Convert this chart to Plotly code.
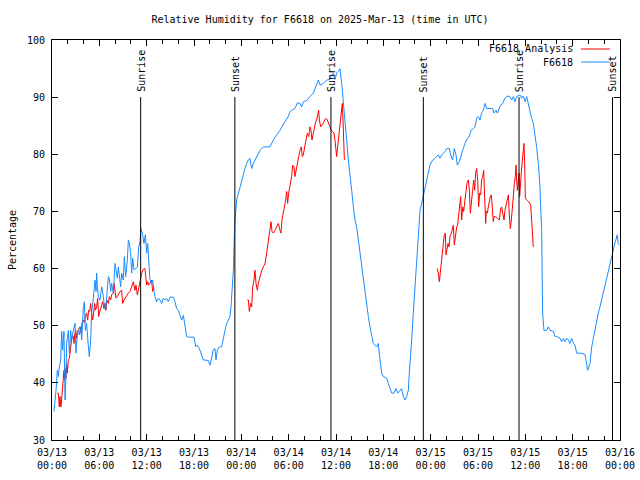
import pandas as pd
import plotly.graph_objects as go

base = pd.Timestamp("2025-03-13 00:00")

# Observed relative humidity (F6618): hours since 03/13 00:00 UTC, values in %
obs_hours = [0.25, 0.38, 0.51, 0.68, 0.80, 0.93, 1.10, 1.23, 1.35, 1.52, 1.65, 1.77, 1.86, 2.07, 2.20, 2.37, 2.49,
             2.70, 2.92, 3.04, 3.21, 3.34, 3.46, 3.63, 3.76, 3.97, 4.10, 4.23, 4.39, 4.61, 4.73, 4.90, 5.03, 5.24,
             5.45, 5.58, 5.66, 5.75, 5.87, 6.08, 6.30, 6.51, 6.63, 6.80, 6.93, 7.14, 7.27, 7.44, 7.56, 7.77, 7.99,
             8.11, 8.28, 8.41, 8.53, 8.70, 8.83, 9.04, 9.17, 9.34, 9.55, 9.68, 9.80, 9.97, 10.10, 10.23, 10.39,
             10.65, 10.82, 10.99, 11.15, 11.28, 11.45, 11.66, 11.83, 12.00, 12.13, 12.25, 12.42, 12.59, 12.76,
             12.93, 13.06, 13.27, 13.48, 13.69, 13.90, 14.11, 14.32, 14.53, 14.75, 14.96, 15.38, 15.59, 15.80,
             16.01, 16.23, 16.44, 16.65, 16.86, 17.07, 17.28, 17.70, 18.00, 18.21, 18.42, 18.68, 18.97, 19.18,
             19.39, 19.82, 20.03, 20.24, 20.45, 20.66, 20.79, 20.96, 21.21, 21.51, 21.72, 21.93, 22.14, 22.35,
             22.56, 22.69, 22.82, 22.99, 23.07, 23.20, 23.41, 23.62, 23.83, 24.04, 24.25, 24.46, 24.68, 24.89,
             25.10, 25.31, 25.52, 25.73, 25.94, 26.15, 26.37, 26.79, 27.63, 28.06, 28.27, 28.48, 28.90, 29.11,
             29.53, 29.96, 30.17, 30.38, 30.80, 31.10, 31.44, 31.65, 31.86, 32.28, 32.49, 32.70, 33.13, 33.46,
             33.76, 33.97, 34.39, 34.82, 35.24, 35.45, 35.66, 35.87, 36.08, 36.29, 36.51, 36.72, 36.93, 37.14,
             37.35, 37.56, 37.77, 37.99, 38.20, 38.41, 38.62, 38.83, 39.04, 39.25, 39.46, 39.68, 39.89, 40.10,
             40.31, 40.52, 40.73, 41.15, 41.36, 41.58, 41.79, 42.00, 42.42, 42.63, 42.85, 43.06, 43.35, 43.60,
             43.82, 44.11, 44.32, 44.54, 44.75, 44.96, 45.17, 45.29, 45.46, 45.59, 45.80, 46.01, 46.22, 46.43,
             46.65, 46.86, 47.07, 47.28, 47.49, 47.70, 47.91, 48.25, 48.55, 48.97, 49.18, 49.39, 49.82, 50.03,
             50.37, 50.53, 50.79, 51.00, 51.21, 51.38, 51.63, 51.80, 52.06, 52.35, 52.65, 52.90, 53.11, 53.41,
             53.62, 53.83, 54.04, 54.25, 54.46, 54.68, 54.89, 55.10, 55.52, 55.86, 56.03, 56.28, 56.45, 56.70,
             56.87, 57.13, 57.42, 57.63, 57.97, 58.27, 58.48, 58.69, 58.90, 59.32, 59.53, 59.74, 59.96, 60.17,
             60.38, 60.59, 60.80, 61.01, 61.22, 61.43, 61.65, 61.86, 61.94, 62.07, 62.19, 62.36, 62.70, 62.91,
             63.13, 63.55, 63.76, 63.97, 64.39, 64.61, 64.82, 65.03, 65.24, 65.45, 65.66, 65.87, 66.08, 66.30,
             66.51, 66.93, 67.56, 67.77, 67.90, 68.20, 68.41, 68.75, 68.96, 69.25, 69.46, 69.67, 69.88, 70.09,
             70.30, 70.51, 70.72, 70.94, 71.06, 71.23, 71.48, 71.65, 71.77, 71.98]
obs_values = [35.0, 36.7, 38.7, 42.2, 41.1, 42.8, 44.0, 49.0, 45.7, 49.0, 37.0, 41.1, 46.9, 49.2, 45.2, 49.2, 47.5,
              49.2, 50.4, 45.2, 48.7, 49.2, 48.4, 49.8, 47.5, 53.0, 54.2, 49.2, 50.4, 46.3, 44.6, 47.5, 52.2, 54.8,
              58.0, 56.0, 59.2, 56.8, 55.1, 54.5, 56.8, 55.1, 53.3, 52.7, 54.5, 58.6, 58.3, 56.0, 57.4, 55.7, 60.9,
              59.8, 58.3, 60.3, 59.2, 56.8, 59.2, 58.0, 62.1, 58.6, 61.5, 65.0, 64.4, 62.7, 59.2, 61.8, 59.8,
              60.0, 60.3, 63.8, 64.7, 67.0, 66.2, 64.4, 65.9, 62.7, 64.4, 60.9, 58.0, 57.4, 58.0,
              56.2, 55.1, 54.2, 54.8, 54.5, 53.9, 54.8, 54.5, 54.8, 54.2, 55.0, 55.0, 54.2, 53.0,
              52.7, 51.6, 51.0, 51.8, 49.8, 48.1, 48.0, 48.0, 48.0, 46.3, 46.6, 46.0, 44.9, 44.0,
              44.0, 43.9, 43.1, 44.6, 45.8, 46.0, 44.0, 45.8, 46.3, 46.3, 48.1, 49.2, 50.4, 51.0,
              51.6, 53.3, 56.2, 59.7, 64.1, 68.5, 72.0, 73.2, 74.3, 75.5, 76.7, 77.5, 78.4, 79.0,
              79.3, 77.5, 78.4, 79.0, 79.6, 80.2, 80.7, 81.3, 81.3, 82.5, 83.1, 83.4, 84.2, 84.8,
              85.7, 86.6, 87.5, 87.7, 88.0, 89.0, 88.9, 88.3, 89.2, 89.4, 89.8, 90.1, 90.7, 91.8,
              93.0, 92.1, 92.4, 93.0, 93.1, 93.9, 94.2, 93.1, 94.2, 94.5, 95.0, 92.4, 89.5, 86.0,
              82.5, 79.0, 76.7, 73.7, 70.8, 68.5, 67.3, 65.0, 62.7, 60.3, 58.0, 55.7, 53.3, 51.6,
              49.8, 48.1, 46.9, 46.3, 46.9, 44.0, 41.7, 41.1, 40.8, 39.9, 39.0, 38.2, 38.2, 39.0,
              38.2, 38.7, 39.0, 37.6, 37.0, 37.6, 38.7, 41.7, 44.6, 47.5, 52.2, 56.8, 62.7, 67.3,
              70.2, 71.4, 72.6, 74.3, 75.5, 76.7, 78.1, 79.0, 79.3, 79.9, 79.3, 79.9, 80.5, 81.0,
              81.0, 79.9, 79.0, 81.0, 79.9, 78.1, 78.7, 79.6, 80.7, 81.9, 82.8, 83.1, 84.2, 84.5,
              84.8, 86.3, 86.6, 86.0, 87.2, 87.7, 88.9, 88.0, 88.0, 88.0, 87.2, 87.7, 87.2, 88.0,
              88.6, 88.9, 89.8, 90.1, 90.2, 89.5, 90.1, 89.2, 90.1, 90.4, 89.8, 90.2, 89.2, 90.1,
              88.6, 87.5, 86.3, 85.4, 83.7, 81.3, 78.4, 74.3, 70.8, 66.7, 52.2, 49.2, 49.2, 49.8,
              49.2, 49.0, 48.1, 48.1, 47.8, 47.2, 47.8, 47.2, 47.8, 47.5, 46.9, 47.8, 46.9, 46.6,
              45.2, 45.2, 45.0, 42.8, 42.2, 43.4, 46.3, 48.7, 50.4, 52.2, 53.3, 54.5, 55.7, 56.8,
              58.0, 59.2, 60.3, 61.5, 62.7, 63.8, 65.0, 65.9, 64.4, 64.1]

# Analysis (F6618 Analysis), three daily segments
ana1_hours = [0.68, 0.80, 0.93, 1.01, 1.14, 1.23, 1.35, 1.52, 1.61, 1.65, 1.77, 1.86, 1.94, 2.07, 2.20, 2.28, 2.41,
              2.53, 2.70, 2.79, 2.87, 3.00, 3.13, 3.25, 3.38, 3.55, 3.68, 3.80, 3.97, 4.10, 4.23, 4.39, 4.52,
              4.65, 4.77, 4.90, 5.03, 5.15, 5.28, 5.41, 5.49, 5.66, 5.79, 5.92, 6.00, 6.17, 6.30, 6.42, 6.59,
              6.72, 6.84, 6.93, 7.14, 7.27, 7.44, 7.56, 7.77, 7.86, 7.99, 8.11, 8.28, 8.41, 8.62, 8.83, 8.96,
              9.13, 9.38, 9.68, 9.89, 10.10, 10.31, 10.52, 10.65, 10.82, 10.99, 11.15, 11.36, 11.57, 11.78,
              11.91, 12.00, 12.13, 12.25, 12.42, 12.63, 12.76, 12.93]
ana1_values = [38.2, 38.2, 35.8, 37.6, 35.8, 37.6, 39.9, 42.2, 40.5, 42.5, 40.8, 43.4, 41.7, 44.0, 44.3, 45.2, 46.3,
               48.1, 48.1, 46.9, 48.4, 49.3, 47.8, 49.0, 49.3, 49.8, 48.7, 50.5, 51.0, 50.5, 51.6, 52.2, 51.0,
               52.7, 52.5, 53.9, 52.2, 51.0, 52.2, 53.9, 52.7, 53.3, 54.8, 51.6, 52.2, 53.3, 53.6, 54.2, 53.0,
               53.9, 52.7, 54.5, 53.9, 55.1, 54.5, 55.4, 55.7, 57.4, 55.7, 54.8, 55.1, 55.4, 56.0, 56.2, 53.9,
               54.5, 55.1, 55.7, 56.0, 56.8, 57.7, 56.2, 57.1, 55.4, 56.8, 58.0, 59.1, 59.9, 60.0,
               58.3, 57.1, 57.7, 57.1, 57.4, 58.0, 56.0, 56.6]
ana2_hours = [24.76, 24.89, 25.01, 25.18, 25.31, 25.44, 25.61, 25.73, 25.86, 26.03, 26.15, 26.37, 26.58, 26.79,
              27.00, 27.21, 27.42, 27.63, 27.76, 27.89, 28.06, 28.27, 28.48, 28.69, 28.90, 29.03, 29.15, 29.32,
              29.45, 29.62, 29.75, 29.87, 30.00, 30.17, 30.38, 30.51, 30.68, 30.80, 30.93, 31.10, 31.27, 31.44,
              31.60, 31.73, 31.86, 32.03, 32.20, 32.37, 32.54, 32.70, 32.83, 32.96, 33.13, 33.25, 33.42, 33.55,
              33.68, 33.80, 33.89, 34.06, 34.22, 34.39, 34.56, 34.73, 34.90, 35.07, 35.24, 35.40, 35.57, 35.75,
              35.87, 35.99, 36.08, 36.21, 36.34, 36.42, 36.59, 36.72, 36.80, 36.89, 36.97, 37.06]
ana2_values = [54.5, 54.5, 52.5, 53.9, 53.3, 56.8, 58.0, 59.7, 57.4, 56.2, 57.4, 58.6, 59.7, 60.3,
               60.9, 62.7, 65.0, 66.5, 68.2, 66.5, 66.2, 66.7, 67.3, 67.9, 66.7, 66.2, 68.5, 69.7,
               70.8, 72.0, 73.5, 71.4, 73.2, 74.3, 76.1, 78.1, 77.8, 76.1, 77.2, 78.4, 79.6, 80.7,
               81.3, 79.6, 79.9, 81.3, 82.5, 83.7, 83.1, 84.8, 84.2, 82.5, 83.7, 84.8, 85.7, 86.0,
               87.2, 87.7, 86.0, 84.8, 85.1, 85.4, 86.0, 86.3, 86.0, 85.4, 84.8, 84.2, 84.0, 83.7,
               82.5, 81.3, 79.6, 81.3, 83.1, 84.8, 86.0, 87.7, 88.9, 86.0, 82.5, 79.0]
ana3_hours = [48.84, 48.97, 49.10, 49.18, 49.27, 49.39, 49.52, 49.61, 49.73, 49.86, 49.94, 50.07, 50.20, 50.32,
              50.45, 50.62, 50.75, 50.87, 51.00, 51.13, 51.30, 51.42, 51.55, 51.68, 51.80, 51.93, 52.06, 52.18,
              52.31, 52.48, 52.60, 52.77, 52.90, 53.03, 53.15, 53.32, 53.45, 53.58, 53.70, 53.83, 53.96, 54.08,
              54.21, 54.34, 54.46, 54.59, 54.72, 54.84, 54.97, 55.05, 55.18, 55.31, 55.43, 55.56, 55.69, 55.81,
              55.94, 56.03, 56.20, 56.45, 56.70, 56.87, 57.00, 57.13, 57.30, 57.42, 57.55, 57.72, 57.85, 57.97,
              58.10, 58.23, 58.35, 58.48, 58.61, 58.73, 58.82, 58.90, 58.99, 59.07, 59.20, 59.28, 59.37, 59.49,
              59.62, 59.74, 59.83, 59.92, 60.00, 60.17, 60.42, 60.68, 60.80, 60.93, 61.01]
ana3_values = [60.0, 59.2, 57.7, 58.6, 59.7, 61.2, 62.7, 64.4, 65.9, 66.2, 62.4, 63.2, 64.4, 63.8,
               65.6, 66.2, 67.3, 67.6, 64.1, 65.6, 67.3, 67.6, 69.7, 71.7, 72.6, 68.5, 70.8, 70.0,
               71.4, 72.9, 74.9, 75.5, 74.0, 69.7, 72.0, 73.7, 75.5, 73.7, 76.7, 77.5, 75.5, 70.8,
               73.2, 72.9, 75.5, 76.1, 77.2, 73.7, 67.9, 70.0, 69.7, 70.8, 71.7, 72.6, 72.9, 70.8,
               68.2, 69.1, 69.1, 68.8, 68.5, 70.5, 70.8, 69.7, 68.5, 70.2, 71.1, 72.0, 72.9, 69.4,
               67.0, 68.5, 70.8, 72.6, 74.9, 76.1, 78.1, 75.5, 73.7, 74.9, 76.7, 72.6, 75.5, 76.7,
               79.0, 80.7, 81.9, 78.4, 72.3, 72.0, 71.7, 71.1, 67.9, 65.6, 63.8]

# Sunrise / sunset markers
sun_hours = [11.24, 23.18, 35.36, 47.07, 59.2, 71.05]
sun_labels = ["Sunrise", "Sunset", "Sunrise", "Sunset", "Sunrise", "Sunset"]
sun_line_top = 90
y_min, y_max = 30, 100

title_text = "Relative Humidity for F6618 on 2025-Mar-13 (time in UTC)"
ytitle = "Percentage"
series_names = ["F6618 Analysis", "F6618"]
series_colors = ["#ff0000", "#1a8cff"]


def to_time(hours):
    return [base + pd.Timedelta(hours=h) for h in hours]


ana_x, ana_y = [], []
for hs, vs in [(ana1_hours, ana1_values), (ana2_hours, ana2_values), (ana3_hours, ana3_values)]:
    ana_x += to_time(hs) + [None]
    ana_y += vs + [None]

FONT = "DejaVu Sans Mono"
fig = go.Figure()
fig.add_trace(go.Scatter(x=ana_x, y=ana_y, mode="lines", name=series_names[0],
                         line=dict(color=series_colors[0], width=1), connectgaps=False, showlegend=False))
fig.add_trace(go.Scatter(x=to_time(obs_hours), y=obs_values, mode="lines", name=series_names[1],
                         line=dict(color=series_colors[1], width=1), showlegend=False))

for h, lab in zip(sun_hours, sun_labels):
    t = base + pd.Timedelta(hours=h)
    fig.add_shape(type="line", xref="x", yref="y", x0=t, x1=t, y0=y_min, y1=sun_line_top,
                  line=dict(color="black", width=1))
    fig.add_annotation(x=t, y=sun_line_top, xref="x", yref="y", text=lab, textangle=-90,
                       showarrow=False, xanchor="center", yanchor="bottom", yshift=3,
                       font=dict(family=FONT, size=10, color="black"))

# gnuplot-style legend: text then line sample (top-right inside)
L, R, T, B = 52, 20, 40, 40
W, H = 640 - L - R, 480 - T - B
def px(p):
    return (p - L) / W
def py(q):
    return (T + H - q) / H

for i, (nm, col) in enumerate(zip(series_names, series_colors)):
    yy = 49 + i * 13
    fig.add_annotation(x=px(575), y=py(yy), xref="paper", yref="paper", text=nm, showarrow=False,
                       xanchor="right", yanchor="middle", font=dict(family=FONT, size=10, color="black"))
    fig.add_shape(type="line", xref="paper", yref="paper", x0=px(581), x1=px(610), y0=py(yy), y1=py(yy),
                  line=dict(color=col, width=1))

fig.update_layout(
    width=640, height=480,
    margin=dict(l=L, r=R, t=T, b=B, autoexpand=False),
    paper_bgcolor="white", plot_bgcolor="white",
    font=dict(family=FONT, size=10, color="black"),
    title=dict(text=title_text, x=0.5, xanchor="center", y=1 - 19 / 480, yanchor="middle",
               yref="container", font=dict(family=FONT, size=10, color="black")),
    showlegend=False, hovermode=False,
)
fig.update_xaxes(
    type="date", range=[base, base + pd.Timedelta(hours=72)], automargin=False,
    tick0=base, dtick=6 * 3600 * 1000, tickformat="%m/%d<br>%H:%M",
    ticks="inside", ticklen=6, tickcolor="black", showline=True, linecolor="black", linewidth=1,
    mirror="ticks", showgrid=False, zeroline=False, ticklabelstandoff=3,
    minor=dict(dtick=2 * 3600 * 1000, ticks="inside", ticklen=4, tickcolor="black", showgrid=False),
    tickfont=dict(family=FONT, size=10, color="black"),
)
fig.update_yaxes(
    range=[y_min, y_max], dtick=10, ticks="inside", ticklen=6, tickcolor="black", automargin=False,
    showline=True, linecolor="black", linewidth=1, mirror="ticks", showgrid=False, zeroline=False,
    tickfont=dict(family=FONT, size=10, color="black"), ticklabelstandoff=4,
    title=dict(text=ytitle, standoff=8, font=dict(family=FONT, size=10, color="black")),
)

fig.write_html("out.html", config={"displayModeBar": False, "staticPlot": True},
               post_script="document.body.style.margin='0';document.body.style.padding='0';"
                           "document.documentElement.style.overflow='hidden';")
